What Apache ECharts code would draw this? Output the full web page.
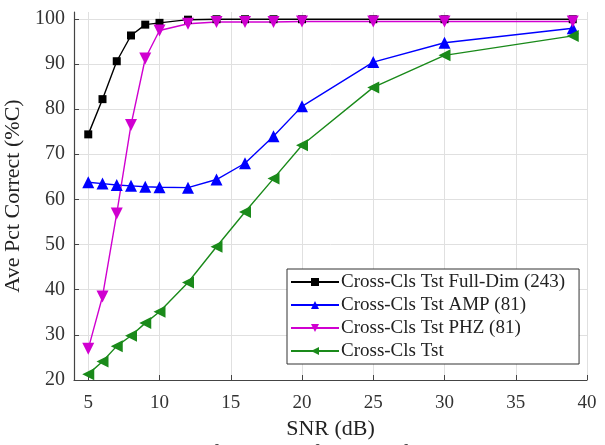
<!DOCTYPE html>
<html>
<head>
<meta charset="utf-8">
<script src="https://cdn.jsdelivr.net/npm/echarts@6/dist/echarts.min.js"></script>
<style>
  html, body { margin: 0; padding: 0; background: #fff; }
  #chart { width: 605px; height: 445px; }
</style>
</head>
<body>
<div id="chart"></div>
<script>
// SNR values (dB)
var snr = [5, 6, 7, 8, 9, 10, 12, 14, 16, 18, 20, 25, 30, 39];

// average percent correct for each curve
var fullDim = [74.4, 82.2, 90.6, 96.3, 98.7, 99.1, 99.8, 99.9, 99.9, 99.9, 99.9, 99.9, 99.9, 99.9];
var amp = [63.8, 63.5, 63.2, 63.0, 62.8, 62.7, 62.6, 64.4, 68.0, 74.0, 80.6, 90.4, 94.7, 97.9];
var phz = [26.9, 38.5, 56.9, 76.5, 91.2, 97.4, 98.9, 99.3, 99.3, 99.3, 99.4, 99.4, 99.4, 99.4];
var crossCls = [21.3, 24.1, 27.5, 29.8, 32.6, 35.1, 41.6, 49.5, 57.2, 64.6, 72.0, 84.8, 91.9, 96.2];

var xTicks = [5, 10, 15, 20, 25, 30, 35, 40];
var yTicks = [20, 30, 40, 50, 60, 70, 80, 90, 100];

var seriesNames = [
    'Cross-Cls Tst Full-Dim (243)',
    'Cross-Cls Tst AMP (81)',
    'Cross-Cls Tst PHZ (81)',
    'Cross-Cls Tst'
];

var serif = '"Liberation Serif", "DejaVu Serif", serif';

function pairs(values) {
    var out = [];
    for (var i = 0; i < snr.length; i++) {
        out.push([snr[i], values[i]]);
    }
    return out;
}

function makeSeries(name, values, color, symbol, size, rotate) {
    return {
        name: name,
        type: 'line',
        data: pairs(values),
        symbol: symbol,
        symbolSize: size,
        symbolRotate: rotate,
        showAllSymbol: true,
        lineStyle: { color: color, width: 1.4 },
        itemStyle: { color: color },
        emphasis: { disabled: true },
        z: 3
    };
}

var myChart = echarts.init(document.getElementById('chart'), null, { renderer: 'canvas' });

var option = {
    animation: false,
    backgroundColor: '#ffffff',
    grid: { left: 74, right: 18, top: 12, bottom: 65, containLabel: false, outerBoundsMode: 'none' },
    legend: {
        orient: 'vertical',
        left: 287,
        top: 269,
        itemWidth: 48,
        itemHeight: 10,
        itemGap: 3,
        padding: [3, 14, 3, 3],
        backgroundColor: '#ffffff',
        borderColor: '#333333',
        borderWidth: 1,
        textStyle: { fontFamily: serif, fontSize: 19, lineHeight: 20, color: '#222222', padding: [0, 0, 0, -3] },
        data: seriesNames
    },
    xAxis: {
        type: 'value',
        min: 4,
        max: 40,
        name: 'SNR (dB)',
        nameLocation: 'middle',
        nameGap: 35,
        nameTextStyle: { fontFamily: serif, fontSize: 22, color: '#222222' },
        axisLine: { lineStyle: { color: '#444444', width: 1.2 } },
        axisTick: { inside: true, length: 5, customValues: xTicks, lineStyle: { color: '#444444' } },
        axisLabel: { customValues: xTicks, fontFamily: serif, fontSize: 19, color: '#333333', margin: 14 },
        splitLine: { show: true, lineStyle: { color: '#e0e0e0', width: 1 } }
    },
    yAxis: {
        type: 'value',
        min: 20,
        max: 101.5,
        name: 'Ave Pct Correct (%C)',
        nameLocation: 'middle',
        nameGap: 45,
        nameTextStyle: { fontFamily: serif, fontSize: 22, color: '#222222' },
        axisLine: { show: true, lineStyle: { color: '#444444', width: 1.2 } },
        axisTick: { show: true, inside: true, length: 5, customValues: yTicks, lineStyle: { color: '#444444' } },
        axisLabel: { customValues: yTicks, fontFamily: serif, fontSize: 20, color: '#333333', margin: 9 },
        splitLine: { show: true, lineStyle: { color: '#e0e0e0', width: 1 } }
    },
    graphic: [
        {
            type: 'text',
            left: 8,
            top: 442,
            style: {
                text: 'Figure 7.1 Track Identification performance for',
                font: '22px ' + serif,
                fill: '#444444'
            }
        }
    ],
    series: [
        makeSeries(seriesNames[0], fullDim, '#000000', 'rect', 8, 0),
        makeSeries(seriesNames[1], amp, '#0000ff', 'triangle', 12, 0),
        makeSeries(seriesNames[2], phz, '#d000d0', 'triangle', 12, 180),
        makeSeries(seriesNames[3], crossCls, '#1a8a1a', 'triangle', 12, 90)
    ]
};

myChart.setOption(option);
</script>
</body>
</html>
